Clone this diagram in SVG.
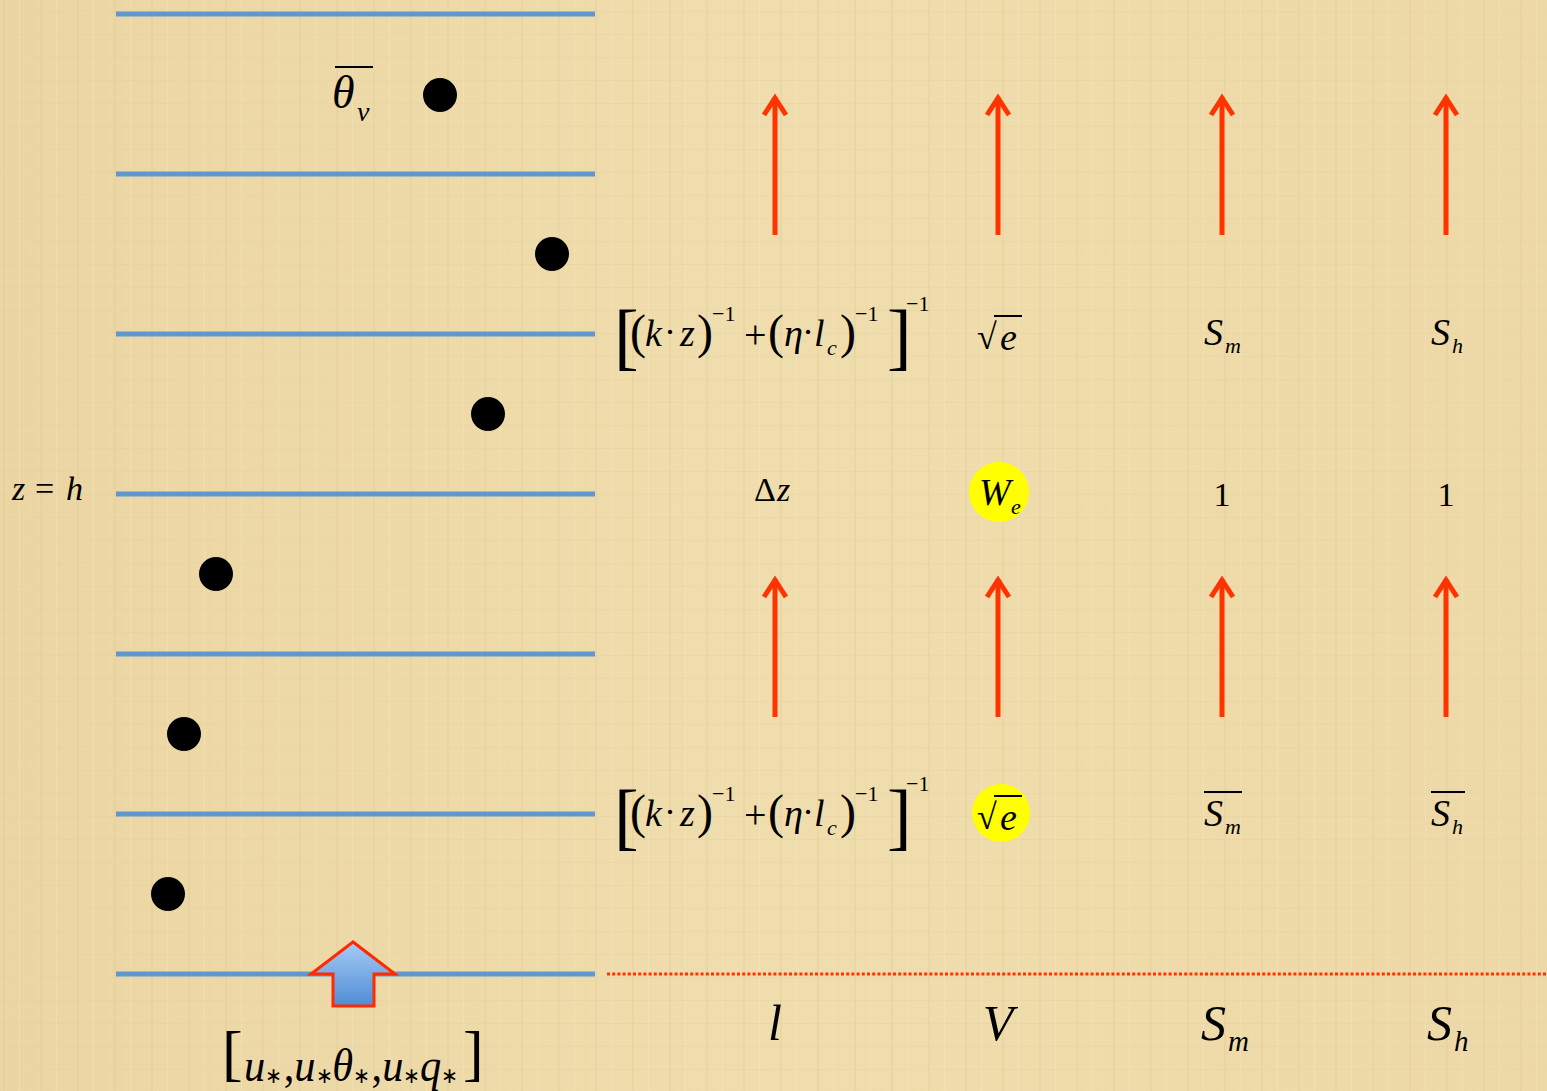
<svg xmlns="http://www.w3.org/2000/svg" xmlns:xlink="http://www.w3.org/1999/xlink" width="1547" height="1091" viewBox="0 0 1547 1091">
<style>
.m{font-family:"Liberation Serif","Times New Roman",serif;fill:#000}
.i{font-style:italic}
.layer{stroke:#5F97CF;stroke-width:5}
.dot{fill:#000}
.up{stroke:#FF3300;stroke-width:5;fill:none;stroke-linecap:butt}
.hl{fill:#FFFF00}
</style>
<defs>
<linearGradient id="bg" x1="0" y1="0" x2="1" y2="0">
<stop offset="0" stop-color="#EBD6A3"/>
<stop offset="0.5" stop-color="#F0DDAD"/>
<stop offset="1" stop-color="#EDD9A7"/>
</linearGradient>
<pattern id="tex" width="37" height="23" patternUnits="userSpaceOnUse">
<rect x="3" y="0" width="2" height="23" fill="#DCC48F" opacity="0.25"/>
<rect x="19" y="0" width="1" height="23" fill="#F7E6BC" opacity="0.5"/>
<rect x="0" y="11" width="37" height="1" fill="#DCC48F" opacity="0.2"/>
</pattern>
<linearGradient id="blueArrow" x1="0" y1="0" x2="0" y2="1">
<stop offset="0" stop-color="#A6CBF5"/>
<stop offset="1" stop-color="#4F8DD6"/>
</linearGradient>
<g id="formula">
<text class="m" x="614" y="361" font-size="74">[</text>
<text class="m" x="630" y="348" font-size="48">(</text>
<text class="m i" x="645" y="346" font-size="38">k</text>
<text class="m" x="664" y="344" font-size="36">·</text>
<text class="m i" x="680" y="346" font-size="38">z</text>
<text class="m" x="697" y="348" font-size="48">)</text>
<text class="m" x="712" y="321" font-size="22">−1</text>
<text class="m" x="744" y="348" font-size="40">+</text>
<text class="m" x="768" y="348" font-size="48">(</text>
<text class="m i" x="784" y="346" font-size="38">η</text>
<text class="m" x="802" y="344" font-size="36">·</text>
<text class="m i" x="814" y="346" font-size="38">l</text>
<text class="m i" x="827" y="355" font-size="22">c</text>
<text class="m" x="840" y="348" font-size="48">)</text>
<text class="m" x="855" y="321" font-size="22">−1</text>
<text class="m" x="887" y="361" font-size="74">]</text>
<text class="m" x="906" y="311" font-size="22">−1</text>
</g>
<g id="sqrte">
<text class="m" x="977" y="349" font-size="36">√</text>
<line x1="994" y1="316" x2="1022" y2="316" stroke="#000" stroke-width="2"/>
<text class="m i" x="1000" y="350" font-size="38">e</text>
</g>
<g id="arrowUp">
<line class="up" x1="0" y1="140" x2="0" y2="2"/>
<polyline class="up" points="-11,20 0,3 11,20" stroke-linejoin="miter"/>
</g>
</defs>

<rect width="1547" height="1091" fill="url(#bg)"/>
<rect width="1547" height="1091" fill="url(#tex)"/>

<g id="layers">
<line class="layer" x1="116" y1="14" x2="595" y2="14"/>
<line class="layer" x1="116" y1="174" x2="595" y2="174"/>
<line class="layer" x1="116" y1="334" x2="595" y2="334"/>
<line class="layer" x1="116" y1="494" x2="595" y2="494"/>
<line class="layer" x1="116" y1="654" x2="595" y2="654"/>
<line class="layer" x1="116" y1="814" x2="595" y2="814"/>
<line class="layer" x1="116" y1="974" x2="595" y2="974"/>
</g>

<g id="dots">
<circle class="dot" cx="440" cy="95" r="17"/>
<circle class="dot" cx="552" cy="254" r="17"/>
<circle class="dot" cx="488" cy="414" r="17"/>
<circle class="dot" cx="216" cy="574" r="17"/>
<circle class="dot" cx="184" cy="734" r="17"/>
<circle class="dot" cx="168" cy="894" r="17"/>
</g>

<g id="theta-v">
<line x1="335" y1="67" x2="373" y2="67" stroke="#000" stroke-width="2"/>
<text class="m i" x="332" y="108" font-size="46">θ</text>
<text class="m i" x="357" y="121" font-size="28">v</text>
</g>

<g id="z-eq-h">
<text class="m i" x="12" y="500" font-size="34">z</text>
<text class="m" x="35" y="500" font-size="34">=</text>
<text class="m i" x="66" y="500" font-size="34">h</text>
</g>

<g id="connectors">
<use xlink:href="#arrowUp" x="775" y="95"/>
<use xlink:href="#arrowUp" x="998" y="95"/>
<use xlink:href="#arrowUp" x="1222" y="95"/>
<use xlink:href="#arrowUp" x="1446" y="95"/>
<use xlink:href="#arrowUp" x="775" y="577"/>
<use xlink:href="#arrowUp" x="998" y="577"/>
<use xlink:href="#arrowUp" x="1222" y="577"/>
<use xlink:href="#arrowUp" x="1446" y="577"/>
<line x1="607" y1="974" x2="1547" y2="974" stroke="#FF3300" stroke-width="3" stroke-dasharray="3,2.2"/>
</g>

<g id="row-upper">
<use xlink:href="#formula"/>
<use xlink:href="#sqrte"/>
<g id="sm-upper"><text class="m i" x="1204" y="345" font-size="38">S</text><text class="m i" x="1225" y="353" font-size="22">m</text></g>
<g id="sh-upper"><text class="m i" x="1431" y="345" font-size="38">S</text><text class="m i" x="1452" y="353" font-size="22">h</text></g>
</g>

<g id="row-mid">
<g id="dz"><text class="m" x="754" y="501" font-size="34">Δ</text><text class="m i" x="777" y="501" font-size="34">z</text></g>
<g id="we"><circle class="hl" cx="999" cy="492" r="30"/><text class="m i" x="979" y="505" font-size="38">W</text><text class="m i" x="1011" y="514" font-size="22">e</text></g>
<text id="one-m" class="m" x="1222" y="506" font-size="34" text-anchor="middle">1</text>
<text id="one-h" class="m" x="1446" y="506" font-size="34" text-anchor="middle">1</text>
</g>

<g id="row-lower">
<use xlink:href="#formula" y="480"/>
<circle class="hl" cx="1001" cy="813" r="29"/>
<use xlink:href="#sqrte" y="480"/>
<g id="sm-lower"><line x1="1204" y1="792" x2="1242" y2="792" stroke="#000" stroke-width="2"/><text class="m i" x="1204" y="826" font-size="38">S</text><text class="m i" x="1225" y="834" font-size="22">m</text></g>
<g id="sh-lower"><line x1="1431" y1="792" x2="1465" y2="792" stroke="#000" stroke-width="2"/><text class="m i" x="1431" y="826" font-size="38">S</text><text class="m i" x="1452" y="834" font-size="22">h</text></g>
</g>

<g id="flux-arrow">
<polygon points="353,942 311,974 333,974 333,1006 374,1006 374,974 395,974" fill="url(#blueArrow)" stroke="#FF2A00" stroke-width="3" stroke-linejoin="miter"/>
</g>

<g id="surface-flux">
<text class="m" x="222" y="1074" font-size="62">[</text>
<text class="m i" x="244" y="1081" font-size="46" textLength="214" lengthAdjust="spacingAndGlyphs">u<tspan font-size="22" font-style="normal" dy="2">∗</tspan><tspan font-style="normal" dy="-2" dx="2">,</tspan>u<tspan font-size="22" font-style="normal" dy="2">∗</tspan><tspan dy="-2">θ</tspan><tspan font-size="22" font-style="normal" dy="2">∗</tspan><tspan font-style="normal" dy="-2" dx="2">,</tspan>u<tspan font-size="22" font-style="normal" dy="2">∗</tspan><tspan dy="-2">q</tspan><tspan font-size="22" font-style="normal" dy="2">∗</tspan></text>
<text class="m" x="463" y="1074" font-size="62">]</text>
</g>

<g id="row-bottom">
<text class="m i" x="775" y="1040" font-size="50" text-anchor="middle">l</text>
<text class="m i" x="998" y="1040" font-size="50" text-anchor="middle">V</text>
<g><text class="m i" x="1201" y="1040" font-size="50">S</text><text class="m i" x="1228" y="1051" font-size="29">m</text></g>
<g><text class="m i" x="1427" y="1040" font-size="50">S</text><text class="m i" x="1454" y="1051" font-size="29">h</text></g>
</g>
</svg>
